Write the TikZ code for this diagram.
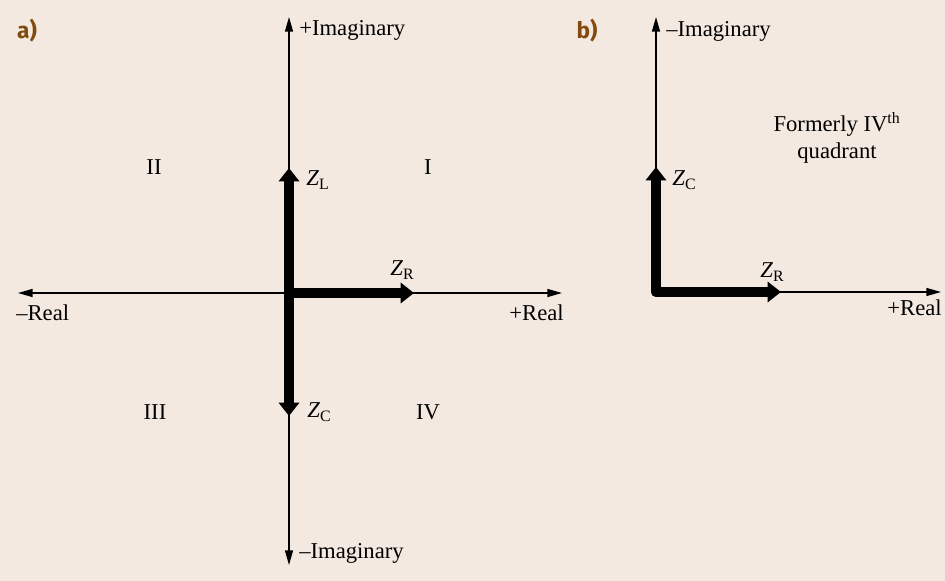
\documentclass[tikz,border=0pt]{standalone}
\usepackage{fontspec}
\setmainfont{Liberation Serif}
\newfontfamily\labfont{Fira Sans}
\usetikzlibrary{arrows.meta}
\definecolor{bgc}{RGB}{243,233,224}
\definecolor{labc}{RGB}{130,74,14}
\tikzset{
  axis/.style={line width=1.1pt,-{Triangle[width=6pt,length=11pt]}},
  phtip/.tip={Triangle[width=15pt,length=10pt]},
  phasor/.style={line width=8pt,-phtip},
  txt/.style={inner sep=0pt,font=\fontsize{17}{20}\selectfont},
  panel/.style={inner sep=0pt,text=labc,font=\labfont\bfseries\fontsize{17}{20}\selectfont},
}
\begin{document}
\begin{tikzpicture}[x=0.75pt,y=-0.75pt]
\fill[bgc] (0,0) rectangle (945,581);
\useasboundingbox (0,0) rectangle (945,581);
% panel a
\node[panel] (pa) at (27,31) {a)};
\coordinate (O) at (289,293);
\coordinate (top) at (289,17);
\coordinate (bot) at (289,565);
\coordinate (left) at (18,293);
\coordinate (right) at (562,293);
\draw[axis] (O) -- (top);
\draw[axis] (O) -- (bot);
\draw[axis] (O) -- (left);
\draw[axis] (O) -- (right);
\coordinate (zl) at (289,168);
\coordinate (zc) at (289,416);
\coordinate (zr) at (414,293);
\draw[phasor] (289,293) -- (zl);
\draw[phasor] (289,293) -- (zc);
\draw[phasor] (284,293) -- (zr);
\node[txt,anchor=west] (pim) at (299,30) {+Imaginary};
\node[txt,anchor=west] (mim) at (299,553) {–Imaginary};
\node[txt,anchor=west] (mre) at (16,313) {–Real};
\node[txt,anchor=east] (pre) at (564,313) {+Real};
\node[txt] (q2) at (154,167) {II};
\node[txt] (q1) at (428,167) {I};
\node[txt] (q3) at (155,412) {III};
\node[txt] (q4) at (428,412) {IV};
\node[txt,anchor=west] (lzl) at (306,180) {\textit{Z}\textsubscript{L}};
\node[txt,anchor=west] (lzr) at (390,270) {\textit{Z}\textsubscript{R}};
\node[txt,anchor=west] (lzc) at (307,412) {\textit{Z}\textsubscript{C}};
% panel b
\node[panel] (pb) at (587,31) {b)};
\coordinate (Ob) at (656,292);
\coordinate (topb) at (656,17);
\coordinate (rightb) at (941,292);
\draw[axis] (Ob) -- (topb);
\draw[axis] (Ob) -- (rightb);
\coordinate (zcb) at (656,167);
\coordinate (zrb) at (781,292);
\draw[phasor,phtip-phtip,line join=round] (zcb) -- (Ob) -- (zrb);
\node[txt,anchor=west] (mimb) at (666,31) {–Imaginary};
\node[txt,anchor=east] (preb) at (942,308) {+Real};
\node[txt,anchor=west] (lzcb) at (672,180) {\textit{Z}\textsubscript{C}};
\node[txt,anchor=west] (lzrb) at (760,272) {\textit{Z}\textsubscript{R}};
\node[txt,align=center] (form) at (837,138) {Formerly IV\textsuperscript{th}\\quadrant};
\end{tikzpicture}
\end{document}
